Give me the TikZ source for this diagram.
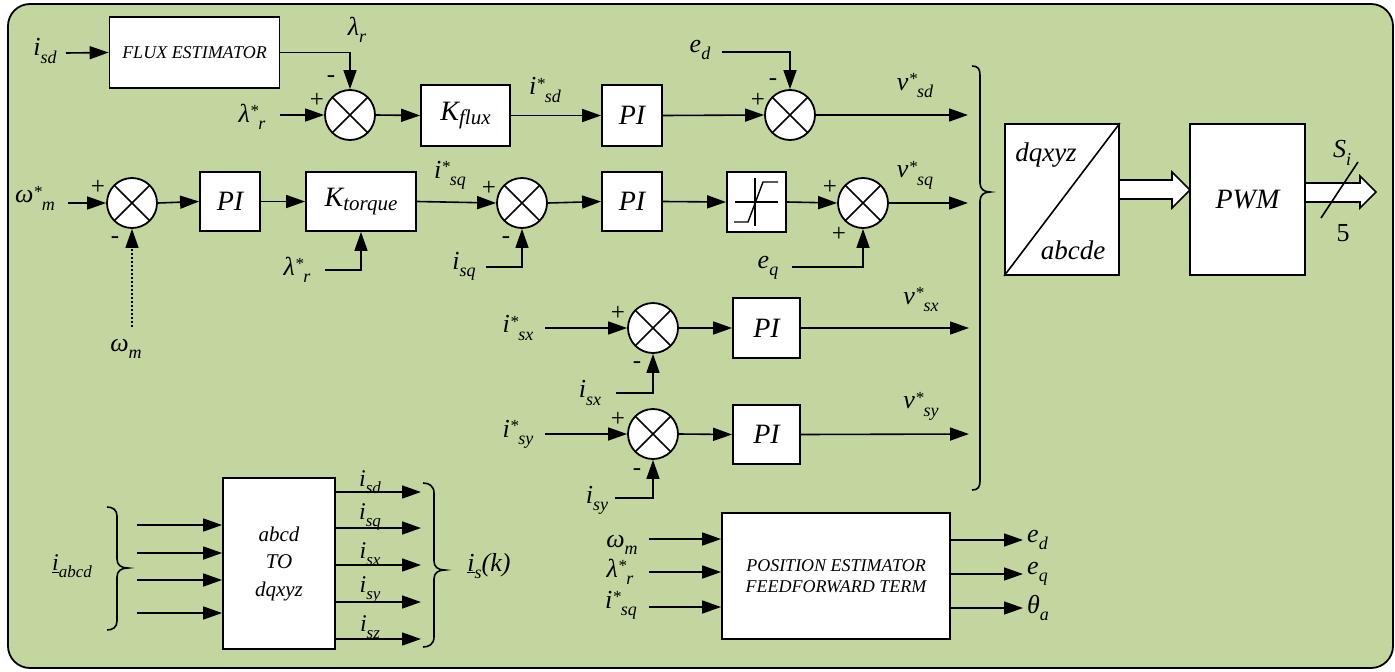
\documentclass[tikz,border=0pt]{standalone}
\usepackage{fontspec}
\setmainfont{Liberation Serif}
\newfontfamily\tms{Liberation Serif}
\usetikzlibrary{arrows.meta,calc}
\definecolor{bgg}{RGB}{196,214,160}
\newcommand\st{\raisebox{0.22em}{\fontsize{17pt}{17pt}\selectfont *}}
\newcommand\sbx[1]{\raisebox{-0.28em}{\fontsize{18pt}{18pt}\selectfont #1}}
\newcommand\sbs[1]{\raisebox{-0.28em}{\fontsize{17pt}{17pt}\selectfont #1}}
\begin{document}
\begin{tikzpicture}[x=1pt,y=-1pt,
  lw/.style={line width=1.6pt},
  arr/.style={line width=1.6pt,-{Triangle[length=19pt,width=13pt]}},
  blk/.style={draw,fill=white,line width=1.8pt,inner sep=0pt,font=\tms\fontsize{28pt}{30pt}\selectfont\itshape},
  sumj/.style={circle,draw,fill=white,line width=1.8pt,minimum size=50pt,inner sep=0pt,
    path picture={\draw[line width=1.6pt] (path picture bounding box.north west)--(path picture bounding box.south east)
      (path picture bounding box.north east)--(path picture bounding box.south west);}},
  lab/.style={inner sep=0pt,font=\tms\fontsize{26pt}{28pt}\selectfont\itshape},
  slab/.style={inner sep=0pt,font=\tms\fontsize{24pt}{26pt}\selectfont\itshape},
  sgn/.style={inner sep=0pt,font=\tms\fontsize{25pt}{25pt}\selectfont}]
\useasboundingbox (0,0) rectangle (1395,672);
\draw[line width=1.8pt,fill=bgg,rounded corners=22pt] (8,4) rectangle (1393,668);

% ---------- row 1 : flux ----------
\node[blk,minimum width=170pt,minimum height=71pt,font=\tms\fontsize{18pt}{20pt}\selectfont\itshape] (flux) at (194.5,52.5) {FLUX ESTIMATOR};
\node[lab] (isdA) at (45,51) {i\sbx{sd}};
\coordinate (isdAe) at (66,53);
\draw[arr] (isdAe) -- (flux.west);
\node[sumj] (s1) at (350,115) {};
\draw[arr] (flux.east) -| (s1.north);
\node[lab] (lr) at (357,30) {λ\sbx{r}};
\node[sgn] (m1) at (331,79) {-};
\node[sgn] (p1) at (317,100) {+};
\node[lab] (lrs1) at (252,117) {λ\st\sbx{r}};
\coordinate (lrs1e) at (280,115);
\draw[arr] (lrs1e) -- (s1.west);
\node[blk,minimum width=89pt,minimum height=61pt] (kf) at (465.5,115.5) {K\raisebox{-0.12em}{\fontsize{21pt}{21pt}\selectfont flux}};
\draw[arr] (s1.east) -- (kf.west);
\node[blk,minimum width=60pt,minimum height=61pt] (pi1) at (632,115.5) {PI};
\draw[arr] (kf.east) -- (pi1.west);
\node[lab] (isds) at (545,90) {i\st\sbx{sd}};
\node[sumj] (s2) at (790,115) {};
\draw[arr] (pi1.east) -- (s2.west);
\node[lab] (ed) at (700,50) {e\sbx{d}};
\coordinate (ede) at (722,52);
\draw[arr] (ede) -| (s2.north);
\node[sgn] (m2) at (773,82) {-};
\node[sgn] (p2) at (758,100) {+};
\coordinate (vsde) at (968,115);
\draw[arr] (s2.east) -- (vsde);
\node[lab] (vsd) at (915,86) {v\st\sbx{sd}};

% ---------- row 2 : torque ----------
\node[sumj] (s3) at (132,203) {};
\node[lab] (wms) at (35,198) {ω\st\sbx{m}};
\coordinate (wmse) at (68,203);
\draw[arr] (wmse) -- (s3.west);
\node[sgn] (p3) at (98,187) {+};
\node[sgn] (m3) at (115,240) {-};
\node[lab] (wm) at (126,349) {ω\sbx{m}};
\coordinate (wmc) at (132,327);
\draw[arr,dash pattern=on 2pt off 2pt] (wmc) -- (s3.south);
\node[blk,minimum width=60pt,minimum height=59pt] (pi2) at (230,201.5) {PI};
\draw[arr] (s3.east) -- (pi2.west);
\node[blk,minimum width=110pt,minimum height=59pt] (kt) at (361,201.5) {K\raisebox{-0.12em}{\fontsize{21pt}{21pt}\selectfont torque}};
\draw[arr] (pi2.east) -- (kt.west);
\node[lab] (lrs2) at (297,270) {λ\st\sbx{r}};
\coordinate (lrs2e) at (325,270);
\draw[arr] (lrs2e) -| (kt.south);
\node[sumj] (s4) at (522,203) {};
\draw[arr] (kt.east) -- (s4.west);
\node[lab] (isqs) at (450,175) {i\st\sbx{sq}};
\node[sgn] (p4) at (489,188) {+};
\node[sgn] (m4) at (506,240) {-};
\node[lab] (isq) at (464,266) {i\sbx{sq}};
\coordinate (isqe) at (486,267);
\draw[arr] (isqe) -| (s4.south);
\node[blk,minimum width=60pt,minimum height=59pt] (pi3) at (632,201.5) {PI};
\draw[arr] (s4.east) -- (pi3.west);
\node[blk,minimum width=59pt,minimum height=60pt] (sat) at (756.5,202) {};
\draw[arr] (pi3.east) -- (sat.west);
\draw[line width=1.4pt] (735,202) -- (778,202) (755,178) -- (755,226);
\draw[line width=1.4pt] (734,222) -- (748,222) -- (763,182) -- (778,182);
\node[sumj] (s5) at (863,203) {};
\draw[arr] (sat.east) -- (s5.west);
\node[sgn] (p5) at (830,187) {+};
\node[sgn] (p6) at (839,234) {+};
\node[lab] (eq) at (768,268) {e\sbx{q}};
\coordinate (eqe) at (792,267);
\draw[arr] (eqe) -| (s5.south);
\coordinate (vsqe) at (968,203);
\draw[arr] (s5.east) -- (vsqe);
\node[lab] (vsq) at (915,175) {v\st\sbx{sq}};

% ---------- rows 3,4 : x, y ----------
\node[sumj] (s6) at (653,328) {};
\node[lab] (isxs) at (518,328) {i\st\sbx{sx}};
\coordinate (isxse) at (545,328);
\draw[arr] (isxse) -- (s6.west);
\node[sgn] (p7) at (618,313) {+};
\node[sgn] (m7) at (637,365) {-};
\node[lab] (isx) at (590,393) {i\sbx{sx}};
\coordinate (isxe) at (616,393);
\draw[arr] (isxe) -| (s6.south);
\node[blk,minimum width=67pt,minimum height=60pt] (pi4) at (766.5,328) {PI};
\draw[arr] (s6.east) -- (pi4.west);
\coordinate (vsxe) at (969,328);
\draw[arr] (pi4.east) -- (vsxe);
\node[lab] (vsx) at (921,300) {v\st\sbx{sx}};

\node[sumj] (s7) at (653,434) {};
\node[lab] (isys) at (518,434) {i\st\sbx{sy}};
\coordinate (isyse) at (545,434);
\draw[arr] (isyse) -- (s7.west);
\node[sgn] (p8) at (618,419) {+};
\node[sgn] (m8) at (637,472) {-};
\node[lab] (isy) at (597,500) {i\sbx{sy}};
\coordinate (isye) at (615,498);
\draw[arr] (isye) -| (s7.south);
\node[blk,minimum width=67pt,minimum height=59pt] (pi5) at (766.5,434.5) {PI};
\draw[arr] (s7.east) -- (pi5.west);
\coordinate (vsye) at (969,434);
\draw[arr] (pi5.east) -- (vsye);
\node[lab] (vsy) at (921,406) {v\st\sbx{sy}};

% right brace
\draw[lw] (972,66) .. controls (978,66) and (980,69) .. (980,75) -- (980,183)
  .. controls (980,189) and (984,192) .. (990,192) .. controls (984,192) and (980,195) .. (980,201)
  -- (980,481) .. controls (980,487) and (978,490) .. (972,490);

% ---------- conversion / PWM ----------
\draw[lw,fill=white] (1119,180) -- (1172,180) -- (1172,172) -- (1190,190) -- (1172,208) -- (1172,199) -- (1119,199);
\node[blk,minimum width=114pt,minimum height=151pt] (dq) at (1062,199.5) {};
\draw[lw] (dq.south west) -- (dq.north east);
\node[lab,font=\tms\fontsize{27pt}{28pt}\selectfont\itshape] (dqt) at (1046,155) {dqxyz};
\node[lab,font=\tms\fontsize{27pt}{28pt}\selectfont\itshape] (abt) at (1073,250) {abcde};
\draw[lw,fill=white] (1305,183) -- (1360,183) -- (1360,176) -- (1376,192) -- (1360,208) -- (1360,202) -- (1305,202);
\node[blk,minimum width=115pt,minimum height=151pt] (pwm) at (1247.5,199.5) {PWM};
\draw[lw] (1321,218) -- (1358,162);
\node[lab] (si) at (1342,153) {S\sbx{i}};
\node[lab,font=\tms\fontsize{26pt}{28pt}\selectfont] (five) at (1343,233) {5};

% ---------- position estimator ----------
\node[blk,minimum width=228pt,minimum height=126pt,align=center,font=\tms\fontsize{18pt}{21pt}\selectfont\itshape] (pe) at (836,576) {POSITION ESTIMATOR\\FEEDFORWARD TERM};
\coordinate (pi1c) at (649,539);
\coordinate (pi2c) at (649,572);
\coordinate (pi3c) at (649,607);
\draw[arr] (pi1c) -- (pi1c -| pe.west);
\draw[arr] (pi2c) -- (pi2c -| pe.west);
\draw[arr] (pi3c) -- (pi3c -| pe.west);
\node[lab] (wm2) at (622,545) {ω\sbx{m}};
\node[lab] (lr3) at (620,572) {λ\st\sbx{r}};
\node[lab] (isq3) at (621,605) {i\st\sbx{sq}};
\coordinate (po1) at (1023,540);
\coordinate (po2) at (1023,574);
\coordinate (po3) at (1023,608);
\draw[arr] (pe.east |- po1) -- (po1);
\draw[arr] (pe.east |- po2) -- (po2);
\draw[arr] (pe.east |- po3) -- (po3);
\node[lab,anchor=west] (edo) at (1027,540) {e\sbx{d}};
\node[lab,anchor=west] (eqo) at (1027,574) {e\sbx{q}};
\node[lab,anchor=west] (tho) at (1027,608) {θ\sbx{a}};

% ---------- abcd to dqxyz ----------
\node[blk,minimum width=112pt,minimum height=171pt,align=center,font=\tms\fontsize{21pt}{27.5pt}\selectfont\itshape] (abc) at (279,563.5) {abcd\\TO\\dqxyz};
\coordinate (ai1) at (137,525);
\coordinate (ai2) at (137,553);
\coordinate (ai3) at (137,580);
\coordinate (ai4) at (137,613);
\draw[arr] (ai1) -- (ai1 -| abc.west);
\draw[arr] (ai2) -- (ai2 -| abc.west);
\draw[arr] (ai3) -- (ai3 -| abc.west);
\draw[arr] (ai4) -- (ai4 -| abc.west);
\draw[lw] (107,507) .. controls (113,507) and (117,510) .. (117,516) -- (117,559)
  .. controls (117,565) and (121,568) .. (128,568) .. controls (121,568) and (117,571) .. (117,577)
  -- (117,621) .. controls (117,627) and (113,630) .. (107,630);
\node[slab] (iabcd) at (72,566) {\underline{i}\sbs{abcd}};
\coordinate (ao1) at (421,492);
\coordinate (ao2) at (421,528);
\coordinate (ao3) at (421,565);
\coordinate (ao4) at (421,602);
\coordinate (ao5) at (421,639);
\draw[arr] (abc.east |- ao1) -- (ao1);
\draw[arr] (abc.east |- ao2) -- (ao2);
\draw[arr] (abc.east |- ao3) -- (ao3);
\draw[arr] (abc.east |- ao4) -- (ao4);
\draw[arr] (abc.east |- ao5) -- (ao5);
\node[slab] (l1) at (370,482) {i\sbs{sd}};
\node[slab] (l2) at (370,517) {i\sbs{sq}};
\node[slab] (l3) at (370,554) {i\sbs{sx}};
\node[slab] (l4) at (370,590) {i\sbs{sy}};
\node[slab] (l5) at (370,627) {i\sbs{sz}};
\draw[lw] (423,483) .. controls (429,483) and (434,486) .. (434,493) -- (434,561)
  .. controls (434,567) and (438,570) .. (445,570) .. controls (438,570) and (434,573) .. (434,579)
  -- (434,637) .. controls (434,644) and (429,647) .. (423,647);
\node[lab] (isk) at (489,566) {\underline{i}\sbx{s}(k)};
\end{tikzpicture}
\end{document}
